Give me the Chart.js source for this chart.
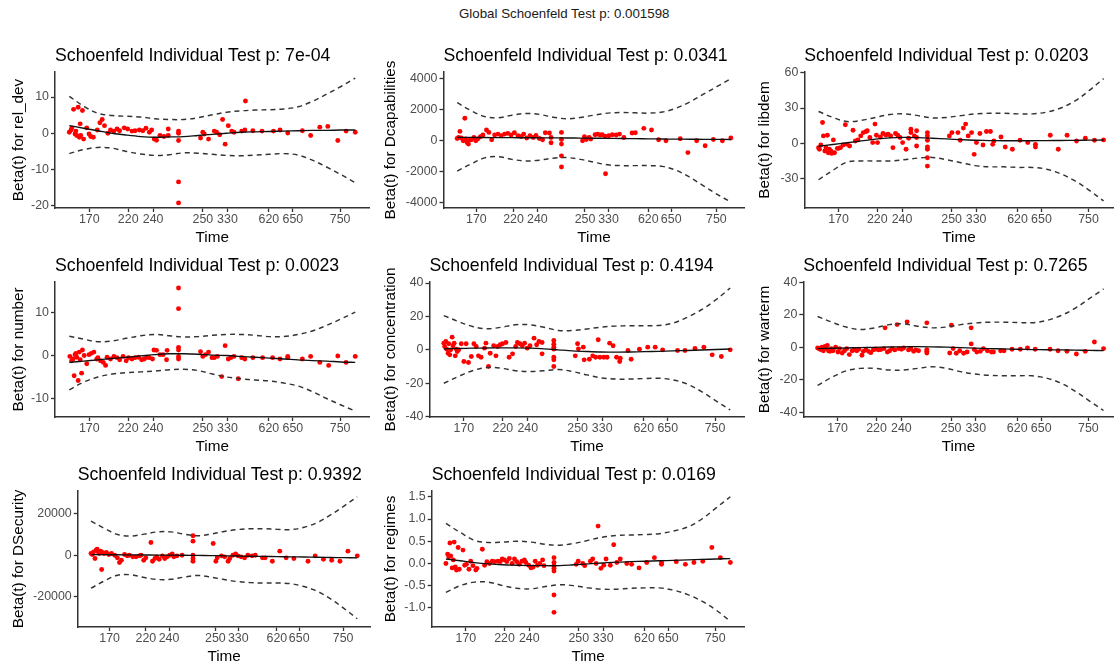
<!DOCTYPE html>
<html><head><meta charset="utf-8">
<script src="https://cdn.jsdelivr.net/npm/chart.js@4.4.1/dist/chart.umd.min.js"></script>
<style>
html,body{margin:0;padding:0;background:#fff;overflow:hidden;width:1116px;height:664px;}
#wrap{position:relative;width:1116px;height:664px;overflow:hidden;}
canvas{position:absolute;}
#gtitle{position:absolute;left:459px;top:6px;font-family:"Liberation Sans",Arial,sans-serif;font-size:13.3px;line-height:16px;color:#1a1a1a;white-space:nowrap;}
</style></head>
<body><div id="wrap"><div id="gtitle">Global Schoenfeld Test p: 0.001598</div></div>
<script>
// ---------- shared axis data ----------
const timeTickPos = [7, 20.6, 29.3, 46.7, 55.3, 69.8, 78.2, 94.7];
const timeTickLabels = ['170','220','240','250','330','620','650','750'];
const curveTime = [0,5,10,15,20,25,30,35,40,45,50,55,60,65,70,75,80,85,90,95,100];

// ---------- rel_dev ----------
const relDevTime = [0,0.6,0.9,1.5,2.0,2.3,2.6,3.1,3.5,3.8,4.0,4.6,5.0,6.1,6.9,7.5,8.4,9.8,10.7,11.5,12.3,13.5,14.4,15.6,16.7,17.6,19.2,20.4,21.9,23.0,24.5,25.7,26.8,28.0,28.8,29.7,30.5,31.7,33.1,34.6,34.6,38.2,38.2,38.2,38.2,38.2,45.9,46.7,47.2,48.7,50.7,51.5,52.6,53.6,54.5,55.6,56.8,57.6,60.3,61.4,61.6,64.2,67.4,71.4,73.7,76.4,81.5,84.4,87.6,90.4,93.9,96.8,100];
const relDevBeta = [0.3,0.9,1.5,6.6,-0.2,0.6,-0.6,7.2,-1.1,2.6,-0.6,6.3,-1.6,1.5,-0.2,-0.9,-1.1,0.9,2.9,3.8,2.1,0,0.9,0.6,1.2,0.7,1.5,1.2,0.6,0.7,0.9,0.7,1.4,0.3,0.9,-1.6,-1.9,-0.6,-0.9,1.2,-0.6,0.6,0,-2.0,-13.4,-19.2,-1.3,0.3,-0.2,-1.6,0.6,0.3,-0.4,3.8,-3.0,2.1,0.6,0.3,0.6,0.9,8.9,0.7,0.6,0.6,0.9,0.1,0.7,-0.6,1.7,1.9,-2.0,0.6,0.3];
const relDevFit = [2.1,1.4,0.7,0.0,-0.5,-0.9,-1.1,-1.0,-0.9,-0.6,-0.3,0.0,0.3,0.4,0.5,0.6,0.7,0.8,0.8,0.9,0.9];
const relDevUpper = [10.2,7.5,5.5,4.9,4.7,4.5,4.0,3.8,3.8,4.3,5.1,5.8,6.2,6.4,6.5,6.7,7.3,8.8,10.8,12.9,15.2];
const relDevLower = [-5.6,-4.5,-3.9,-4.1,-5.0,-5.7,-6.1,-5.9,-5.4,-5.5,-5.8,-6.1,-6.2,-6.0,-5.8,-5.6,-6.0,-7.4,-9.3,-11.4,-13.6];
const relDevTicks = [-20,-10,0,10];
const relDevTickLabels = ['-20','-10','0','10'];

// ---------- Dcapabilities ----------
const dcapTime = [0,0.5,1.0,1.5,2.2,2.8,3.1,3.6,4.1,4.6,5.2,6.1,6.8,7.5,8.5,9.4,10.7,11.6,12.6,13.7,14.9,16.1,17.3,18.5,19.7,20.9,22.2,23.4,24.3,25.4,26.6,27.8,28.8,30.0,31.2,32.2,33.7,34.3,34.3,38.1,38.1,38.1,38.1,38.1,45.8,46.5,47.2,48.2,48.8,50.4,51.3,52.2,53.0,54.0,54.2,55.4,56.7,58.1,59.3,60.9,63.9,65.1,68.2,71.0,73.6,76.3,81.5,84.3,87.5,90.6,93.6,96.9,100];
const dcapBeta = [150,215,605,175,0,1450,110,-110,-215,45,65,215,0,110,260,370,690,540,65,370,430,325,430,475,370,520,325,280,430,175,325,215,345,150,65,520,500,215,-130,540,85,-215,-970,-1690,0,260,85,215,110,390,430,370,390,300,-2120,325,390,370,430,215,500,520,800,690,65,0,130,-760,0,-325,85,0,175];
const dcapFit = [220,215,210,205,200,195,190,185,180,175,165,155,145,135,125,115,105,100,95,90,85];
const dcapUpper = [2450,1950,1560,1480,1650,1760,1700,1520,1420,1500,1650,1780,1820,1800,1780,1850,2100,2500,3000,3500,4000];
const dcapLower = [-1950,-1500,-1100,-1020,-1200,-1300,-1250,-1120,-1080,-1200,-1380,-1550,-1600,-1600,-1600,-1650,-1900,-2350,-2900,-3450,-3950];
const dcapTicks = [-4000,-2000,0,2000,4000];
const dcapTickLabels = ['-4000','-2000','0','2000','4000'];

// ---------- libdem ----------
const libdemTime = [0,0.3,0.8,1.4,1.7,2.2,2.6,3.1,3.4,3.8,4.3,4.6,5.2,5.6,6.6,7.1,7.7,8.6,9.4,10.0,10.9,12.1,12.9,13.8,14.8,15.7,16.7,17.1,18.0,19.0,19.8,20.3,20.7,21.7,22.6,23.6,24.4,25.3,26.1,27.0,27.8,28.6,29.5,30.7,31.6,32.4,32.4,33.6,34.4,34.4,34.4,38.2,38.2,38.2,38.2,38.2,38.2,38.2,45.9,46.8,48.9,49.7,50.8,51.6,52.5,53.7,54.6,55.4,56.6,57.7,58.9,60.3,61.1,61.5,64.0,65.5,68.0,70.7,73.4,76.1,76.1,81.3,84.1,87.2,90.5,93.6,96.8,100];
const libdemBeta = [-3.7,-5.1,-1.4,17.7,6.3,-6.6,-3.7,6.9,-8,-5.1,-6.6,-8.6,2.9,-8,-4.3,-4.3,-3.7,-1.4,15.7,-0.9,-2.3,11.1,2,2.9,6.3,9.1,10,10.6,4.9,0.6,16.3,6.9,0.6,5.4,8.3,7.1,7.7,6.3,-3.7,8.3,6.9,4.9,0.6,-5.1,4.3,12,9.1,6.3,10.6,4.9,-2.3,9.1,6.3,2.6,-3.1,-5.1,-12.3,-19.4,6.3,9.1,9.1,2.6,12.9,16.3,6.3,9.1,-9.4,0.6,8.3,-1.4,10,10,-0.9,2,5.4,-3.1,-5.1,2.6,0.6,-0.9,-3.1,6.9,-5.1,6.9,2,4.3,2.6,2.9];
const libdemFit = [-2.5,-1.0,0.5,2.0,3.5,4.6,5.0,4.8,4.3,3.7,3.1,2.6,2.3,2.2,2.2,2.2,2.3,2.4,2.5,2.7,2.8];
const libdemUpper = [27,22,18.5,19.5,22,24.5,25,23.5,21.5,22,23.5,25,25.5,25.5,25,25,26.5,30,36,45,55];
const libdemLower = [-31,-23,-16,-15,-15,-15,-14,-12.5,-12,-14,-16.5,-19,-20,-20,-20.5,-20.5,-22,-26,-32,-40,-49];
const libdemTicks = [-30,0,30,60];
const libdemTickLabels = ['-30','0','30','60'];

// ---------- number ----------
const numberTime = [0.2,0.8,1.3,1.7,2.0,2.3,2.6,3.1,3.5,3.8,4.3,4.6,5.2,6.1,6.9,7.7,8.6,9.6,10.0,10.9,11.9,12.7,13.2,14.4,15.6,16.7,17.6,18.8,19.9,20.7,21.9,23.0,24.2,25.3,26.2,27.1,28.0,29.1,29.6,30.5,31.7,32.8,34.0,34.2,38.2,38.2,38.2,38.2,38.2,38.2,45.9,46.7,47.6,48.7,49.9,50.7,51.8,53.3,54.5,55.6,56.5,57.6,59.1,60.3,61.4,64.2,67.6,71.1,73.7,76.4,76.4,81.5,84.4,87.6,90.7,93.9,96.8,100];
const numberBeta = [-0.2,-1.2,-0.8,-4.7,0.2,0.5,-0.4,-5.8,0.8,-1.0,-4.1,1.3,0,-1.9,0.2,0.5,0.8,-0.8,-0.5,-1.2,-1.6,-2.3,-0.4,-0.8,-0.2,-0.5,-1.0,-0.2,-1.2,-0.5,-0.8,-0.5,-0.4,-1.0,-0.8,-0.4,-0.5,-0.8,1.3,1.2,0.2,0.2,-1.0,1.2,1.9,1.3,-0.2,-0.8,10.9,15.7,0.9,-0.2,0.2,0.8,-0.5,-0.5,-0.2,-4.9,2.3,-0.8,-0.5,-0.2,-5.4,-0.5,-0.8,-0.5,-0.5,-0.5,-0.8,-0.2,-0.5,-0.8,-0.2,-1.6,-2.3,-0.1,-1.6,-0.2];
const numberFit = [-1.6,-1.3,-1.0,-0.7,-0.4,-0.1,0.2,0.4,0.4,0.3,0.1,0.0,-0.2,-0.4,-0.6,-0.8,-1.0,-1.2,-1.3,-1.5,-1.6];
const numberUpper = [4.5,3.8,3.2,3.4,4.0,4.6,4.9,4.6,4.3,4.4,4.7,4.9,4.9,4.7,4.4,4.4,4.9,5.7,7.0,8.5,10.1];
const numberLower = [-8.0,-6.2,-5.0,-4.3,-4.0,-3.8,-3.6,-3.3,-3.2,-3.5,-4.3,-5.0,-5.4,-5.7,-5.9,-6.4,-7.1,-8.4,-10.0,-11.5,-12.9];
const numberTicks = [-10,0,10];
const numberTickLabels = ['-10','0','10'];

// ---------- concentration ----------
const concTime = [0,0.3,0.7,1.0,1.5,1.7,2.1,2.4,2.9,3.2,3.6,4.0,4.4,4.7,5.2,6.1,7.0,7.8,8.6,9.6,10.5,11.3,12.1,13.0,14.2,14.7,15.6,16.2,17.4,18.2,18.8,19.7,20.5,21.7,22.8,24.0,25.1,25.7,26.6,27.4,28.2,29.1,30.1,31.5,32.4,33.2,34.3,34.3,38.4,38.4,38.4,38.4,38.4,38.4,38.4,45.9,46.7,47.0,48.7,49.0,50.8,52.0,53.0,53.9,54.5,55.9,57.0,57.9,59.1,60.3,61.4,61.6,64.3,65.4,68.3,71.2,73.8,76.4,81.6,84.2,87.7,90.8,93.7,96.9,100];
const concBeta = [4,2,5,0.4,-2,3.6,-3,0,7.6,2.4,4,-3.6,0.4,-1,0,3.6,-7,3.6,-7.6,-4,3.6,2,-3.6,-4.4,1,4,-10,-2,2.4,-3.6,2,3,3.6,4.4,-4.4,-2.4,2,4.4,3.6,2.4,4,1,2.4,7,3,5,4.4,-2.4,5.6,3.4,1.6,0.4,-4.4,-6,-10,-3.6,3.6,0.6,1.6,-6,-5.6,-3.6,-4.4,6,-4.4,-4.4,-4.4,4,2.4,-4.4,-7,-5,-0.4,-5.6,0.4,1.6,1.6,0,-0.4,-0.4,0.8,1.6,-3,-4,0];
const concFit = [0.6,0.8,1.0,1.1,1.2,1.2,1.0,0.6,0.0,-0.6,-1.0,-1.3,-1.4,-1.3,-1.1,-0.9,-0.6,-0.4,-0.1,0.2,0.5];
const concUpper = [20.5,17,14,12.6,13.5,15,15,13.5,11.6,11.6,12.5,13.6,14.2,14.4,14.4,14.6,16,19.5,24,30,37];
const concLower = [-20,-16,-12.5,-10.6,-11,-12.5,-13,-12.5,-11.8,-13,-15,-16.8,-17.5,-17.5,-17.2,-17,-18,-20.5,-25,-30.5,-36];
const concTicks = [-40,-20,0,20,40];
const concTickLabels = ['-40','-20','0','20','40'];

// ---------- warterm ----------
const wartermTime = [0,0.6,1.0,1.5,2.0,2.3,2.6,3.1,3.4,3.8,4.3,4.8,5.4,6.3,7.1,7.7,8.6,9.4,10.2,11.1,12.1,12.9,13.7,14.4,15.5,16.0,16.9,17.8,18.6,19.5,20.3,21.3,22.1,23.2,23.6,24.4,25.2,26.1,27.0,27.8,28.4,29.3,30.1,31.3,31.8,32.6,33.6,34.4,35.3,38.2,38.2,38.2,38.2,46.2,46.8,47.4,48.5,49.7,51.1,52.3,53.7,53.7,54.8,55.7,56.9,58.0,59.4,60.8,61.5,64.0,65.2,68.0,70.9,73.4,76.1,81.3,84.1,87.2,90.5,93.6,96.8,100];
const wartermBeta = [-0.4,-0.8,-1.4,0,-2.1,-0.4,0.6,-0.8,1.2,-2.1,-2.5,-0.8,-2.1,0,-2.9,-0.8,-3.5,-2.1,-0.8,-4.5,-2.1,-1.6,-2.1,-1.2,-4.9,-2.5,-1.6,-2.5,-3.3,-1.6,-1.0,-1.6,-1.4,-0.8,12.0,-2.9,-2.1,-0.8,-1.6,14.0,-0.8,-1.2,-0.4,15.7,-1.6,-0.8,-2.5,-1.6,-2.1,15.1,-1.4,-2.5,-3.5,-3.5,13.6,-0.8,-3.7,-2.1,-3.7,-2.9,12.0,2.1,-1.4,-2.9,-2.5,-0.8,-2.1,-2.9,-2.9,-2.1,-2.1,-1.2,-1.2,-0.4,-1.2,-1.2,-2.1,-2.5,-4.1,-2.5,3.3,-0.8];
const wartermFit = [-0.8,-0.6,-0.4,-0.2,0.0,0.2,0.3,0.4,0.3,0.1,-0.2,-0.5,-0.8,-1.0,-1.2,-1.4,-1.5,-1.6,-1.7,-1.9,-2.0];
const wartermUpper = [19,15.5,12.5,11,12,14,14.5,13,12,12.5,14,15,15.5,15.5,15.3,15.2,16.5,19.5,24,30,36];
const wartermLower = [-23.5,-18.5,-14.5,-13,-13,-14,-14,-13,-12,-13,-15,-16.5,-17.3,-17.5,-17.5,-17.6,-19,-22,-27,-33,-39];
const wartermTicks = [-40,-20,0,20,40];
const wartermTickLabels = ['-40','-20','0','20','40'];

// ---------- DSecurity ----------
const dsecTime = [0,0.5,1.0,1.5,1.9,2.3,2.7,3.1,3.6,4.0,4.3,4.9,5.8,6.7,7.7,8.9,9.9,10.7,11.4,12.6,13.6,14.4,15.7,16.9,18.1,18.8,19.8,20.6,22.5,23.1,24.0,24.7,25.6,26.8,27.7,28.6,29.6,30.5,31.1,32.3,34.2,38.3,38.3,38.3,38.3,38.3,45.9,46.9,47.4,49.0,50.2,51.5,52.1,53.3,54.3,55.2,56.4,57.7,58.9,60.5,61.7,64.4,65.4,68.1,70.9,73.3,76.2,81.5,84.2,87.3,90.4,93.5,96.5,100];
const dsecBeta = [810,324,1620,-1620,2430,2916,1620,810,1944,-6966,1296,810,1296,324,810,0,-1296,-3564,-2430,324,-324,0,-810,-810,-324,0,-2430,-1296,6156,-2916,-1620,-810,-1944,-324,-1620,-810,0,648,-810,-324,0,9396,6804,0,-1620,-2916,5670,-2916,-1296,-324,-810,-2916,-1620,0,648,-324,-810,-1296,0,-324,0,-1296,-1296,-2916,1944,-1296,-1620,-2916,-324,-1944,-2430,-2916,1944,-324];
const dsecFit = [300,250,200,150,100,50,0,-50,-100,-200,-300,-400,-500,-600,-700,-800,-900,-1000,-1100,-1200,-1300];
const dsecUpper = [16500,13000,10000,9300,10200,11300,11300,10200,9400,10200,11500,12400,12800,12800,12500,12400,13500,15800,19500,23800,28300];
const dsecLower = [-16000,-12500,-9700,-9500,-10800,-11800,-11700,-10600,-9800,-10600,-11800,-12800,-13300,-13500,-13500,-13800,-15200,-17500,-21200,-25800,-30800];
const dsecTicks = [-20000,0,20000];
const dsecTickLabels = ['-20000','0','20000'];

// ---------- regimes ----------
const regimesTime = [0,0.6,1.0,1.4,1.7,2.2,2.6,2.9,3.3,3.7,4.3,4.7,6.0,6.6,7.2,8.1,8.7,9.5,10.5,10.9,12.8,13.6,14.4,15.3,16.3,17.1,18.3,19.1,19.8,20.6,21.4,22.3,23.3,24.1,24.9,25.8,26.7,27.6,28.1,29.1,29.9,30.7,31.4,32.2,33.0,34.0,34.5,38.0,38.0,38.0,38.0,38.0,38.0,38.0,45.8,46.5,48.1,48.8,50.8,51.6,52.8,53.5,54.5,55.5,56.3,57.8,59.0,60.1,61.3,63.6,65.3,67.9,70.6,73.3,75.8,75.8,81.0,84.2,87.2,90.3,93.5,96.5,100];
const regimesBeta = [0,0.21,0.15,0.46,0.17,-0.10,0.08,0.48,-0.08,-0.15,0.36,-0.13,0.30,-0.04,-0.02,-0.13,0.05,-0.05,-0.15,-0.11,0.32,-0.04,0.04,0,0.05,0.04,0.05,0.04,0.10,0.08,0.04,0.11,0,0.10,0.04,-0.02,0.05,0.08,0.02,-0.04,-0.10,-0.08,0.05,-0.04,0,0.08,-0.05,0.13,0.02,-0.05,-0.11,-0.17,-0.71,-1.10,-0.02,0.05,0,-0.05,0.05,0.10,0,0.84,-0.11,-0.04,0.10,-0.04,0.42,0.02,0.10,0,-0.02,-0.10,0.02,0.13,0.02,-0.02,0.04,-0.02,0.02,0.05,0.36,0.13,0.02];
const regimesFit = [0.10,0.06,0.02,-0.01,-0.03,-0.04,-0.05,-0.05,-0.05,-0.03,-0.01,0.01,0.03,0.04,0.05,0.06,0.07,0.08,0.09,0.10,0.11];
const regimesUpper = [0.90,0.70,0.52,0.47,0.48,0.50,0.48,0.43,0.41,0.45,0.52,0.59,0.63,0.64,0.65,0.67,0.73,0.82,1.00,1.25,1.50];
const regimesLower = [-0.65,-0.50,-0.42,-0.42,-0.50,-0.56,-0.57,-0.52,-0.48,-0.50,-0.55,-0.58,-0.58,-0.56,-0.55,-0.55,-0.60,-0.70,-0.85,-1.05,-1.30];
const regimesTicks = [-1.0,-0.5,0.0,0.5,1.0,1.5];
const regimesTickLabels = ['-1.0','-0.5','0.0','0.5','1.0','1.5'];

// ---------- panel definitions ----------
const panels = [
  {title:'Schoenfeld Individual Test p: 7e-04', ylab:'Beta(t) for rel_dev', time:relDevTime, beta:relDevBeta, fit:relDevFit, up:relDevUpper, lo:relDevLower, yt:relDevTicks, ytl:relDevTickLabels, yMin:-20.6, yMax:16.9},
  {title:'Schoenfeld Individual Test p: 0.0341', ylab:'Beta(t) for Dcapabilities', time:dcapTime, beta:dcapBeta, fit:dcapFit, up:dcapUpper, lo:dcapLower, yt:dcapTicks, ytl:dcapTickLabels, yMin:-4330, yMax:4430},
  {title:'Schoenfeld Individual Test p: 0.0203', ylab:'Beta(t) for libdem', time:libdemTime, beta:libdemBeta, fit:libdemFit, up:libdemUpper, lo:libdemLower, yt:libdemTicks, ytl:libdemTickLabels, yMin:-55, yMax:60.6},
  {title:'Schoenfeld Individual Test p: 0.0023', ylab:'Beta(t) for number', time:numberTime, beta:numberBeta, fit:numberFit, up:numberUpper, lo:numberLower, yt:numberTicks, ytl:numberTickLabels, yMin:-14.3, yMax:17.1},
  {title:'Schoenfeld Individual Test p: 0.4194', ylab:'Beta(t) for concentration', time:concTime, beta:concBeta, fit:concFit, up:concUpper, lo:concLower, yt:concTicks, ytl:concTickLabels, yMin:-40.2, yMax:40.6},
  {title:'Schoenfeld Individual Test p: 0.7265', ylab:'Beta(t) for warterm', time:wartermTime, beta:wartermBeta, fit:wartermFit, up:wartermUpper, lo:wartermLower, yt:wartermTicks, ytl:wartermTickLabels, yMin:-43, yMax:40.3},
  {title:'Schoenfeld Individual Test p: 0.9392', ylab:'Beta(t) for DSecurity', time:dsecTime, beta:dsecBeta, fit:dsecFit, up:dsecUpper, lo:dsecLower, yt:dsecTicks, ytl:dsecTickLabels, yMin:-34800, yMax:31100},
  {title:'Schoenfeld Individual Test p: 0.0169', ylab:'Beta(t) for regimes', time:regimesTime, beta:regimesBeta, fit:regimesFit, up:regimesUpper, lo:regimesLower, yt:regimesTicks, ytl:regimesTickLabels, yMin:-1.43, yMax:1.63}
];

// layout (pixels) for each panel
const boxes = [
  {row:0, colLeft:0,   plotLeft:55,    plotRight:372, xMax:105},
  {row:0, colLeft:372, plotLeft:443.5, plotRight:747, xMax:105},
  {row:0, colLeft:746, plotLeft:804.3, plotRight:1116, xMax:103.5},
  {row:1, colLeft:0,   plotLeft:55,    plotRight:372, xMax:105},
  {row:1, colLeft:372, plotLeft:429.5, plotRight:747, xMax:105},
  {row:1, colLeft:746, plotLeft:803.3, plotRight:1116, xMax:103.5},
  {row:2, colLeft:0,   plotLeft:77.7,  plotRight:373, xMax:105},
  {row:2, colLeft:372, plotLeft:431.7, plotRight:747, xMax:105}
];
const ROW_TOP = [72, 282, 491];
const ROW_H = [136, 135, 136];
const TOP_PAD = 32, XAXIS_H = 39;
const FONT = '"Liberation Sans", Arial, Helvetica, sans-serif';
const TICK_SIZE = 12.4;

function pairs(xs, ys){ const n=Math.min(xs.length, ys.length); const out=[]; for(let i=0;i<n;i++) out.push({x:xs[i], y:ys[i]}); return out; }

const titlePlugin = {
  id:'panelTitle',
  afterDraw(chart, args, opts){
    const {ctx, chartArea} = chart;
    ctx.save();
    ctx.font = '17.7px ' + FONT;
    ctx.fillStyle = '#000';
    ctx.textAlign = 'left';
    ctx.textBaseline = 'alphabetic';
    ctx.fillText(opts.text, chartArea.left, chartArea.top - 10.8);
    ctx.restore();
  }
};

const wrap = document.getElementById('wrap');
panels.forEach((p, i) => {
  const b = boxes[i];
  const top = ROW_TOP[b.row] - TOP_PAD;
  const h = TOP_PAD + ROW_H[b.row] + XAXIS_H;
  const w = Math.round(b.plotRight - b.colLeft);
  const c = document.createElement('canvas');
  c.width = w; c.height = h;
  c.style.left = b.colLeft + 'px'; c.style.top = top + 'px';
  c.style.width = w + 'px'; c.style.height = h + 'px';
  wrap.appendChild(c);
  const yW = b.plotLeft - b.colLeft;
  const lineStyle = {showLine:true, pointRadius:0, pointHoverRadius:0, tension:0.35, fill:false};
  new Chart(c, {
    type:'scatter',
    data:{datasets:[
      Object.assign({data:pairs(curveTime, p.up), borderColor:'#333', borderWidth:1.45, borderDash:[5,4]}, lineStyle),
      Object.assign({data:pairs(curveTime, p.lo), borderColor:'#333', borderWidth:1.45, borderDash:[5,4]}, lineStyle),
      Object.assign({data:pairs(curveTime, p.fit), borderColor:'#111', borderWidth:1.35}, lineStyle),
      {data:pairs(p.time, p.beta), pointRadius:2.45, pointHoverRadius:2.45, backgroundColor:'#ff0000', borderWidth:0, pointBorderWidth:0}
    ]},
    options:{
      responsive:false, animation:false, devicePixelRatio:1, events:[],
      layout:{padding:{top:TOP_PAD, left:0, right:0, bottom:0}},
      plugins:{legend:{display:false}, tooltip:{enabled:false}, title:{display:false}, panelTitle:{text:p.title}},
      scales:{
        x:{
          type:'linear', min:-5, max:b.xMax,
          afterFit:s=>{ s.height = XAXIS_H; },
          afterBuildTicks:s=>{ s.ticks = timeTickPos.map(v=>({value:v})); },
          ticks:{autoSkip:false, maxRotation:0, minRotation:0, padding:0.5, color:'#4d4d4d', font:{family:FONT, size:TICK_SIZE}, callback:(v,idx)=>timeTickLabels[idx]},
          grid:{display:true, drawOnChartArea:false, drawTicks:true, tickLength:4, color:'#333', tickWidth:1.3},
          border:{display:true, color:'#333', width:1.5},
          title:{display:true, text:'Time', color:'#000', font:{family:FONT, size:15.3}, padding:{top:0, bottom:0}}
        },
        y:{
          type:'linear', min:p.yMin, max:p.yMax,
          afterFit:s=>{ s.width = yW; },
          afterBuildTicks:s=>{ s.ticks = p.yt.map(v=>({value:v})); },
          ticks:{padding:2, color:'#4d4d4d', font:{family:FONT, size:TICK_SIZE}, callback:(v,idx)=>p.ytl[idx]},
          grid:{display:true, drawOnChartArea:false, drawTicks:true, tickLength:4, color:'#333', tickWidth:1.3},
          border:{display:true, color:'#333', width:1.5},
          title:{display:true, text:p.ylab, color:'#000', font:{family:FONT, size:15.3}, padding:{top:9.8, bottom:0}}
        }
      }
    },
    plugins:[titlePlugin]
  });
});
</script>
</body></html>
